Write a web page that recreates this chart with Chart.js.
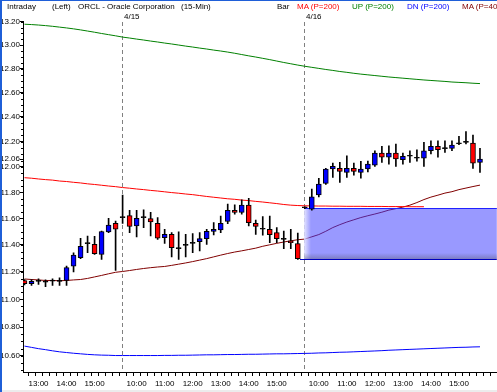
<!DOCTYPE html>
<html>
<head>
<meta charset="utf-8">
<script src="https://cdn.jsdelivr.net/npm/chart.js@4.4.0/dist/chart.umd.min.js"></script>
<style>
  body { margin: 0; background: #fff; }
  #wrap { position: relative; width: 497px; height: 392px; overflow: hidden; }
  #wrap canvas { position: absolute; left: 0; top: 0; }
  .hd { position: absolute; top: 2px; font: 8px "Liberation Sans", Arial, sans-serif; line-height: 10px; white-space: nowrap; color: #000; }
</style>
</head>
<body>
<div id="wrap">
  <canvas id="chart" width="497" height="392"></canvas>
  <div class="hd" style="left:7px">Intraday</div>
  <div class="hd" style="left:52px">(Left)</div>
  <div class="hd" style="left:78px">ORCL - Oracle Corporation</div>
  <div class="hd" style="left:181px">(15-Min)</div>
  <div class="hd" style="left:277px">Bar</div>
  <div class="hd" style="left:297px;color:#ff0000">MA (P=200)</div>
  <div class="hd" style="left:352px;color:#008000">UP (P=200)</div>
  <div class="hd" style="left:407px;color:#0000ff">DN (P=200)</div>
  <div class="hd" style="left:462px;color:#800000">MA (P=40)</div>
</div>
<script>
// 15-min bars: afternoon of 4/14, then full sessions of 4/15 and 4/16
const day0Times = ['12:30','12:45','13:00','13:15','13:30','13:45','14:00','14:15','14:30','14:45','15:00','15:15','15:30','15:45'];
const sessionTimes = ['9:30','9:45','10:00','10:15','10:30','10:45','11:00','11:15','11:30','11:45','12:00','12:15','12:30',
                      '12:45','13:00','13:15','13:30','13:45','14:00','14:15','14:30','14:45','15:00','15:15','15:30','15:45'];
const times = day0Times.concat(sessionTimes, sessionTimes);

const dayStarts = [14, 40];
const dayLabels = ['4/15', '4/16'];

const opens = [
  11.137, 11.113, 11.130, 11.125, 11.132, 11.130, 11.137, 11.243, 11.305, 11.410, 11.404, 11.330, 11.498, 11.563,
  11.607, 11.622, 11.543, 11.607, 11.599, 11.563, 11.455, 11.480, 11.372, 11.397, 11.412, 11.425, 11.448, 11.501,
  11.513, 11.577, 11.663, 11.646, 11.702, 11.563, 11.518, 11.518, 11.493, 11.442, 11.430, 11.410,
  11.682, 11.671, 11.781, 11.871, 11.983, 11.988, 11.957, 11.988, 11.957, 11.983, 12.014, 12.110, 12.076, 12.110,
  12.057, 12.084, 12.068, 12.068, 12.128, 12.163, 12.145, 12.147, 12.184, 12.195, 12.190, 12.036
];
const highs = [
  11.144, 11.144, 11.149, 11.142, 11.149, 11.157, 11.243, 11.342, 11.450, 11.467, 11.465, 11.505, 11.602, 11.580,
  11.779, 11.663, 11.663, 11.666, 11.646, 11.607, 11.518, 11.493, 11.498, 11.480, 11.486, 11.493, 11.518, 11.569,
  11.619, 11.710, 11.704, 11.743, 11.754, 11.588, 11.615, 11.619, 11.531, 11.505, 11.518, 11.490,
  11.690, 11.826, 11.910, 11.988, 12.030, 12.036, 12.088, 12.030, 12.044, 12.046, 12.128, 12.163, 12.168, 12.182,
  12.110, 12.128, 12.136, 12.195, 12.208, 12.208, 12.208, 12.208, 12.244, 12.281, 12.254, 12.147
];
const lows = [
  11.105, 11.100, 11.108, 11.091, 11.100, 11.100, 11.100, 11.200, 11.298, 11.342, 11.330, 11.293, 11.493, 11.210,
  11.563, 11.493, 11.460, 11.531, 11.467, 11.442, 11.412, 11.310, 11.293, 11.310, 11.342, 11.355, 11.404, 11.475,
  11.493, 11.561, 11.632, 11.632, 11.543, 11.480, 11.473, 11.417, 11.417, 11.372, 11.372, 11.293,
  11.674, 11.663, 11.766, 11.863, 11.918, 11.878, 11.918, 11.935, 11.912, 11.960, 12.004, 12.036, 12.022, 12.004,
  12.022, 12.036, 12.046, 12.004, 12.102, 12.076, 12.114, 12.128, 12.176, 12.182, 11.988, 11.957
];
const closes = [
  11.113, 11.130, 11.130, 11.125, 11.132, 11.130, 11.231, 11.325, 11.389, 11.410, 11.335, 11.501, 11.549, 11.518,
  11.607, 11.539, 11.602, 11.607, 11.574, 11.450, 11.480, 11.380, 11.372, 11.397, 11.412, 11.448, 11.503, 11.518,
  11.563, 11.663, 11.646, 11.702, 11.568, 11.539, 11.518, 11.478, 11.448, 11.442, 11.417, 11.298,
  11.682, 11.766, 11.865, 11.983, 12.004, 11.965, 11.988, 11.965, 11.983, 12.022, 12.110, 12.076, 12.110, 12.062,
  12.084, 12.084, 12.068, 12.128, 12.163, 12.136, 12.145, 12.174, 12.184, 12.195, 12.030, 12.062
];

// indicator lines
const ma200 = [
  11.915, 11.911, 11.905, 11.900, 11.896, 11.889, 11.885, 11.879, 11.874, 11.867, 11.862, 11.856, 11.850, 11.845,
  11.838, 11.833, 11.827, 11.822, 11.816, 11.811, 11.805, 11.799, 11.794, 11.788, 11.783, 11.776, 11.769, 11.763,
  11.757, 11.751, 11.747, 11.741, 11.737, 11.731, 11.726, 11.720, 11.714, 11.707, 11.702, 11.699,
  11.697, 11.696, 11.695, 11.695, 11.694, 11.694, 11.693, 11.693, 11.693, 11.692, 11.692, 11.692, 11.691, 11.691,
  11.691, 11.690, 11.690, 11.690
];
const upBand = [
  13.179, 13.176, 13.172, 13.167, 13.161, 13.154, 13.147, 13.139, 13.130, 13.120, 13.110, 13.099, 13.089, 13.079,
  13.068, 13.060, 13.051, 13.043, 13.034, 13.026, 13.017, 13.009, 13.000, 12.991, 12.983, 12.974, 12.966, 12.957,
  12.949, 12.940, 12.930, 12.919, 12.908, 12.898, 12.887, 12.876, 12.864, 12.852, 12.841, 12.830,
  12.820, 12.811, 12.802, 12.793, 12.785, 12.776, 12.769, 12.761, 12.754, 12.748, 12.742, 12.736, 12.730, 12.725,
  12.720, 12.715, 12.710, 12.705, 12.701, 12.697, 12.693, 12.688, 12.685, 12.682, 12.678, 12.675
];
const dnBand = [
  10.667, 10.658, 10.649, 10.642, 10.634, 10.627, 10.622, 10.617, 10.613, 10.609, 10.606, 10.604, 10.603, 10.601,
  10.601, 10.601, 10.601, 10.601, 10.601, 10.601, 10.602, 10.602, 10.603, 10.603, 10.604, 10.605, 10.606, 10.606,
  10.607, 10.608, 10.608, 10.609, 10.610, 10.610, 10.611, 10.612, 10.613, 10.613, 10.614, 10.615,
  10.616, 10.617, 10.619, 10.620, 10.622, 10.624, 10.625, 10.627, 10.629, 10.631, 10.633, 10.635, 10.638, 10.640,
  10.642, 10.644, 10.646, 10.648, 10.650, 10.652, 10.654, 10.656, 10.658, 10.659, 10.661, 10.662
];
const ma40 = [
  11.148, 11.144, 11.141, 11.137, 11.137, 11.135, 11.137, 11.141, 11.144, 11.152, 11.163, 11.174, 11.186, 11.197,
  11.203, 11.210, 11.218, 11.225, 11.231, 11.236, 11.240, 11.248, 11.257, 11.266, 11.276, 11.287, 11.298, 11.311,
  11.324, 11.336, 11.347, 11.356, 11.366, 11.376, 11.390, 11.401, 11.412, 11.422, 11.431, 11.439,
  11.444, 11.461, 11.478, 11.503, 11.531, 11.553, 11.573, 11.590, 11.607, 11.621, 11.634, 11.648, 11.664, 11.675,
  11.687, 11.702, 11.722, 11.745, 11.764, 11.779, 11.795, 11.806, 11.822, 11.834, 11.846, 11.857
];

// opening gap of 4/16: prior close up to today's open
const gapStart = 40;
const gapLow = 11.293;
const gapHigh = 11.680;

const yTicks = [13.20, 13.00, 12.80, 12.60, 12.40, 12.20, 12.06, 12.00, 11.80, 11.60, 11.40, 11.20, 11.00, 10.80, 10.60];

const FONT = { family: 'Liberation Sans, Arial, sans-serif', size: 8 };

const toPoints = arr => arr.map((v, i) => ({ x: i, y: v }));

const wickData = highs.map((h, i) => ({ x: i, y: [lows[i], h] }));
const bodyData = opens.map((o, i) => ({ x: i, y: [Math.min(o, closes[i]), Math.max(o, closes[i])] }));
const bodyColors = opens.map((o, i) => closes[i] > o ? '#0000ff' : (closes[i] < o ? '#ff0000' : '#000000'));

const decor = {
  id: 'decor',
  beforeDatasetsDraw(chart) {
    const { ctx, chartArea, scales: { x } } = chart;
    ctx.save();
    ctx.strokeStyle = '#808080';
    ctx.lineWidth = 1;
    ctx.setLineDash([4, 3]);
    dayStarts.forEach(d => {
      const px = Math.floor(x.getPixelForValue(d)) + 0.5;
      ctx.beginPath();
      ctx.moveTo(px, chartArea.top + 1);
      ctx.lineTo(px, chartArea.bottom);
      ctx.stroke();
    });
    ctx.restore();
  },
  beforeDatasetDraw(chart, args) {
    if (args.index !== 0) return;
    // shaded gap box, over the indicator lines but under the candles
    const { ctx, chartArea, scales: { x, y } } = chart;
    const left = Math.floor(x.getPixelForValue(gapStart));
    const right = chartArea.right;
    const top = Math.round(y.getPixelForValue(gapHigh));
    const bottom = Math.round(y.getPixelForValue(gapLow));
    ctx.save();
    ctx.fillStyle = 'rgba(60, 60, 255, 0.52)';
    ctx.fillRect(left, top, right - left, bottom - top);
    let g = ctx.createLinearGradient(left, 0, left + 7, 0);
    g.addColorStop(0, 'rgba(255,255,255,0.75)');
    g.addColorStop(1, 'rgba(255,255,255,0)');
    ctx.fillStyle = g;
    ctx.fillRect(left, top, 7, bottom - top);
    g = ctx.createLinearGradient(0, bottom - 6, 0, bottom);
    g.addColorStop(0, 'rgba(90,90,120,0)');
    g.addColorStop(1, 'rgba(90,90,120,0.45)');
    ctx.fillStyle = g;
    ctx.fillRect(left, bottom - 6, right - left, 6);
    ctx.fillStyle = '#2020ff';
    ctx.fillRect(left, top, right - left, 1);
    ctx.fillStyle = '#0000c0';
    ctx.fillRect(left - 4, bottom, right - left + 4, 1);
    ctx.restore();
  },
  afterDraw(chart) {
    const { ctx, chartArea, scales: { x, y } } = chart;
    ctx.save();
    // minor ticks on the price axis
    ctx.fillStyle = '#000';
    for (let k = 200; k <= 270; k++) {
      const v = k / 20;
      if (v < y.min || v > y.max) continue;
      const py = Math.round(y.getPixelForValue(v));
      ctx.fillRect(chartArea.left - 2, py, 2, 1);
    }
    // session date labels
    ctx.font = '8px Liberation Sans, Arial, sans-serif';
    ctx.textBaseline = 'alphabetic';
    ctx.textAlign = 'left';
    dayStarts.forEach((d, k) => {
      ctx.fillText(dayLabels[k], Math.floor(x.getPixelForValue(d)) + 2, 19);
    });
    // window frame
    ctx.fillStyle = '#1f5fd8';
    ctx.fillRect(0, 0, 2, chart.height);
    ctx.fillRect(0, 0, chart.width, 1);
    ctx.fillStyle = '#ececec';
    ctx.fillRect(2, chart.height - 2, chart.width, 2);
    ctx.restore();
  }
};

new Chart(document.getElementById('chart'), {
  type: 'bar',
  data: {
    datasets: [
      {
        label: 'wicks',
        data: wickData,
        backgroundColor: '#000',
        borderWidth: 0,
        barThickness: 1,
        grouped: false,
        order: 2
      },
      {
        label: 'bodies',
        data: bodyData,
        backgroundColor: bodyColors,
        borderColor: '#000',
        borderWidth: 1,
        borderSkipped: false,
        barThickness: 5,
        minBarLength: 1,
        grouped: false,
        order: 1
      },
      { type: 'line', label: 'MA (P=200)', data: toPoints(ma200), borderColor: '#ff0000', borderWidth: 1, pointRadius: 0, order: 5 },
      { type: 'line', label: 'UP (P=200)', data: toPoints(upBand), borderColor: '#008000', borderWidth: 1, pointRadius: 0, order: 5 },
      { type: 'line', label: 'DN (P=200)', data: toPoints(dnBand), borderColor: '#0000ff', borderWidth: 1, pointRadius: 0, order: 5 },
      { type: 'line', label: 'MA (P=40)', data: toPoints(ma40), borderColor: '#800000', borderWidth: 1, pointRadius: 0, order: 5 }
    ]
  },
  options: {
    responsive: false,
    animation: false,
    devicePixelRatio: 1,
    layout: { padding: { top: 21, right: 0, bottom: 0, left: 0 } },
    plugins: { legend: { display: false }, tooltip: { enabled: false } },
    scales: {
      x: {
        type: 'linear',
        offset: false,
        min: -0.2143,
        max: 67.4,
        grid: { drawOnChartArea: false, drawTicks: true, tickLength: 4, tickColor: '#000' },
        border: { display: true, color: '#000', width: 1 },
        afterBuildTicks: s => { s.ticks = []; for (let i = 0; i <= 67; i++) s.ticks.push({ value: i }); },
        afterFit: s => { s.height = 20; },
        ticks: {
          autoSkip: false,
          maxRotation: 0,
          padding: 3,
          color: '#000',
          font: FONT,
          callback: v => (times[v] && times[v].endsWith(':00')) ? times[v] : ''
        }
      },
      y: {
        type: 'logarithmic',
        min: 10.487,
        max: 13.207,
        grid: { drawOnChartArea: false, drawTicks: true, tickLength: 3, tickColor: '#000' },
        border: { display: true, color: '#000', width: 1 },
        afterBuildTicks: s => { s.ticks = yTicks.map(v => ({ value: v })); },
        afterFit: s => { s.width = 23; },
        ticks: {
          autoSkip: false,
          padding: 0,
          color: '#000',
          font: FONT,
          callback: v => Number(v).toFixed(2)
        }
      }
    }
  },
  plugins: [decor]
});
</script>
</body>
</html>
